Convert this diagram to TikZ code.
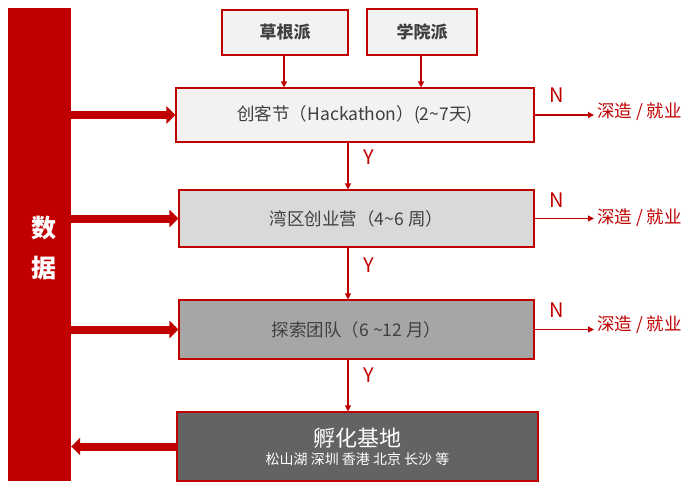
\documentclass[tikz,border=0pt]{standalone}
\usepackage{fontspec}
\setmainfont{Noto Sans CJK SC}
\usetikzlibrary{arrows.meta}
\definecolor{myred}{HTML}{C00000}
\definecolor{txtgray}{HTML}{404040}
\definecolor{f1}{HTML}{F2F2F2}
\definecolor{f2}{HTML}{D9D9D9}
\definecolor{f3}{HTML}{A6A6A6}
\definecolor{f4}{HTML}{636363}
\tikzset{
  stagebox/.style={draw=myred, line width=1.1pt, rectangle, text=txtgray, font=\fontsize{17.5}{20}\selectfont, inner sep=0pt},
  srcbox/.style={draw=myred, line width=1.1pt, fill=f1, rectangle, text=txtgray, font=\fontsize{17}{20}\selectfont\bfseries, inner sep=0pt},
  thin arrow/.style={draw=myred, line width=1.2pt, -{Triangle[width=6pt,length=6pt]}},
  fat arrow/.style={draw=myred, line width=8pt, -{Triangle[width=17pt,length=9pt]}},
  yn/.style={text=myred, font=\fontsize{20}{22}\selectfont, inner sep=0pt},
  outtxt/.style={text=myred, font=\fontsize{17.5}{20}\selectfont, inner sep=3pt, anchor=west},
}
\begin{document}
\begin{tikzpicture}[x=1pt,y=-1pt]
\useasboundingbox (0,0) rectangle (700,500);
% data bar
\node[fill=myred, rectangle, minimum width=63pt, minimum height=473pt, inner sep=0pt] (bar) at (39.5,244.5) {};
\node[text=white, font=\fontsize{25}{27}\selectfont\bfseries, inner sep=0pt] (d1) at (44,228) {数};
\node[text=white, font=\fontsize{25}{27}\selectfont\bfseries, inner sep=0pt] (d2) at (44,268) {据};
% sources
\node[srcbox, minimum width=126pt, minimum height=45pt] (cg) at (285,32.5) {草根派};
\node[srcbox, minimum width=110pt, minimum height=46pt] (xy) at (422,32) {学院派};
% stages
\node[stagebox, fill=f1, minimum width=358pt, minimum height=54pt] (b1) at (355,115) {创客节（Hackathon）(2\textasciitilde 7天)};
\node[stagebox, fill=f2, minimum width=355pt, minimum height=57pt] (b2) at (356.5,218.5) {湾区创业营（4\textasciitilde 6 周）};
\node[stagebox, fill=f3, minimum width=355pt, minimum height=59pt] (b3) at (356.5,329.5) {探索团队（6 \textasciitilde 12 月）};
\node[stagebox, fill=f4, minimum width=361pt, minimum height=69pt, text=white, align=center] (b4) at (357.5,446.5)
  {{\fontsize{22}{26}\selectfont 孵化基地}\\[-2pt]{\fontsize{14}{16}\selectfont 松山湖 深圳 香港 北京 长沙 等}};
% source arrows
\draw[thin arrow] (cg.south -| 284,0) -- (b1.north -| 284,0);
\draw[thin arrow] (xy.south -| 421,0) -- (b1.north -| 421,0);
% Y arrows
\coordinate (yx) at (348,0);
\draw[thin arrow] (b1.south -| yx) -- (b2.north -| yx);
\draw[thin arrow] (b2.south -| yx) -- (b3.north -| yx);
\draw[thin arrow] (b3.south -| yx) -- (b4.north -| yx);
\node[yn] (y1) at (369,157) {Y};
\node[yn] (y2) at (369,265) {Y};
\node[yn] (y3) at (369,375) {Y};
% N outputs
\node[outtxt] (o1) at (594,112) {深造 / 就业};
\node[outtxt] (o2) at (594,218) {深造 / 就业};
\node[outtxt] (o3) at (594,325) {深造 / 就业};
\draw[thin arrow] (b1.east) -- (b1.east -| o1.west);
\draw[thin arrow] (b2.east) -- (b2.east -| o2.west);
\draw[thin arrow] (b3.east) -- (b3.east -| o3.west);
\node[yn] (n1) at (557,95) {N};
\node[yn] (n2) at (557,200) {N};
\node[yn] (n3) at (557,310) {N};
% fat arrows
\draw[fat arrow] (bar.east |- b1.west) -- (b1.west);
\draw[fat arrow] (bar.east |- b2.west) -- (b2.west);
\draw[fat arrow] (bar.east |- b3.west) -- (b3.west);
\draw[fat arrow] (b4.west) -- (bar.east |- b4.west);
\end{tikzpicture}
\end{document}
